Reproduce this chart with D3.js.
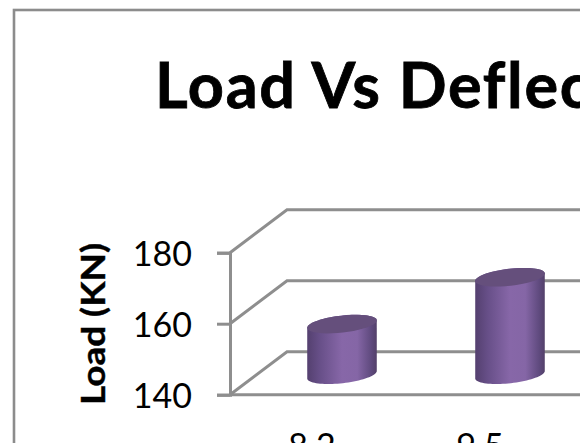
<!DOCTYPE html>
<html>
<head>
<meta charset="utf-8">
<script src="https://cdn.jsdelivr.net/npm/d3@7"></script>
<style>
  html, body { margin: 0; padding: 0; background: #fff; overflow: hidden; }
  text { font-family: Lato, "Open Sans", sans-serif; fill: #000; }
</style>
</head>
<body>
<div id="chart"></div>
<script>
// values
var deflection = ["8.2", "9.5"];
var load = [154.4, 167.6];
var yTicks = [140, 160, 180];

var W = 584, H = 445, visW = 580, visH = 443;
var axisX = 230, bandW = 168;
var depthX = 57, depthY = -43;

var svg = d3.select("#chart").append("svg")
  .attr("width", W)
  .attr("height", H)
  .style("display", "block");

var defs = svg.append("defs");
defs.append("clipPath").attr("id", "crop")
  .append("rect").attr("width", visW).attr("height", visH);

var grad = defs.append("linearGradient").attr("id", "side");
[[0, "#54406f"], [0.18, "#674f88"], [0.5, "#8767a8"], [0.72, "#8566a6"], [0.92, "#5f4a7e"], [1, "#534069"]]
  .forEach(function(s) {
    grad.append("stop").attr("offset", s[0]).attr("stop-color", s[1]);
  });

var g = svg.append("g").attr("clip-path", "url(#crop)");

// chart frame, runs off the crop on the right and bottom
g.append("rect")
  .attr("x", 14).attr("y", 10)
  .attr("width", 800).attr("height", 600)
  .attr("fill", "#fff")
  .attr("stroke", "#8c8c8c")
  .attr("stroke-width", 2.6);

var y = d3.scaleLinear().domain([140, 180]).range([394.7, 252.7]);
var x = d3.scaleBand().domain(deflection)
  .range([axisX, axisX + bandW * deflection.length]);

var gridColor = "#8e8e8e";
var gridWidth = 3;

// gridlines on the side and back walls
yTicks.forEach(function(t) {
  g.append("path")
    .attr("d", d3.line()([
      [axisX, y(t)],
      [axisX + depthX, y(t) + depthY],
      [visW + 10, y(t) + depthY]
    ]))
    .attr("fill", "none")
    .attr("stroke", gridColor)
    .attr("stroke-width", gridWidth);
});

// floor front edge
g.append("line")
  .attr("x1", axisX).attr("x2", visW + 10)
  .attr("y1", y(140)).attr("y2", y(140))
  .attr("stroke", gridColor).attr("stroke-width", gridWidth);

// y axis through d3, styled after
var yAxis = g.append("g")
  .attr("transform", "translate(" + axisX + ",0)")
  .call(d3.axisLeft(y).tickValues(yTicks).tickSize(13).tickPadding(25));
yAxis.selectAll("path, line")
  .attr("stroke", gridColor).attr("stroke-width", gridWidth);
yAxis.selectAll("text")
  .attr("font-size", 34)
  .attr("dy", "0.39em")
  .style("font-family", "Lato");

// x labels, the crop cuts them at the bottom
g.selectAll(".xlab").data(deflection).enter().append("text")
  .attr("class", "xlab")
  .attr("x", function(d) { return x(d) + bandW / 2 - 2; })
  .attr("y", 458)
  .attr("text-anchor", "middle")
  .attr("font-size", 34)
  .text(function(d) { return d; });

// cylinders
var rx = 35, tilt = -6.5;
var bars = g.selectAll(".bar").data(deflection).enter().append("g").attr("class", "bar")
  .attr("transform", function(d) {
    return "translate(" + (x(d) + bandW / 2 + depthX / 2 - 0.5) + ",0)";
  });

function ellipsePoint(cy, a) {
  var px = rx * Math.cos(a), py = 8.5 * Math.sin(a);
  var r = tilt * Math.PI / 180;
  return [px * Math.cos(r) - py * Math.sin(r), cy + px * Math.sin(r) + py * Math.cos(r)];
}
function ellipsePath(cy, a0, a1) {
  return d3.range(0, 41).map(function(i) {
    return ellipsePoint(cy, a0 + (a1 - a0) * i / 40);
  });
}

var floorY = y(140) + depthY / 2 + 1.5;
bars.append("path")
  .attr("fill", "url(#side)")
  .attr("d", function(d, i) {
    var top = y(load[i]) + depthY / 2 + 2;
    var pts = ellipsePath(top, 0, -Math.PI).concat(ellipsePath(floorY, Math.PI, 0));
    return d3.line()(pts) + "Z";
  });
bars.append("path")
  .attr("fill", "#654f7c")
  .attr("d", function(d, i) {
    var top = y(load[i]) + depthY / 2 + 2;
    return d3.line()(ellipsePath(top, 0, Math.PI * 2)) + "Z";
  });

// y axis title
g.append("text")
  .attr("transform", "translate(105,324) rotate(-90)")
  .attr("text-anchor", "middle")
  .attr("font-size", 32)
  .attr("font-weight", 700)
  .attr("stroke", "#000")
  .attr("stroke-width", 0.4)
  .attr("textLength", 162)
  .attr("lengthAdjust", "spacingAndGlyphs")
  .text("Load (KN)");

// chart title, cut off at the crop like the reference
g.append("text")
  .attr("x", 155)
  .attr("y", 108)
  .attr("font-size", 63)
  .attr("font-weight", 700)
  .attr("stroke", "#000")
  .attr("stroke-width", 0.8)
  .attr("letter-spacing", 1.7)
  .text("Load Vs Deflection");
</script>
</body>
</html>
